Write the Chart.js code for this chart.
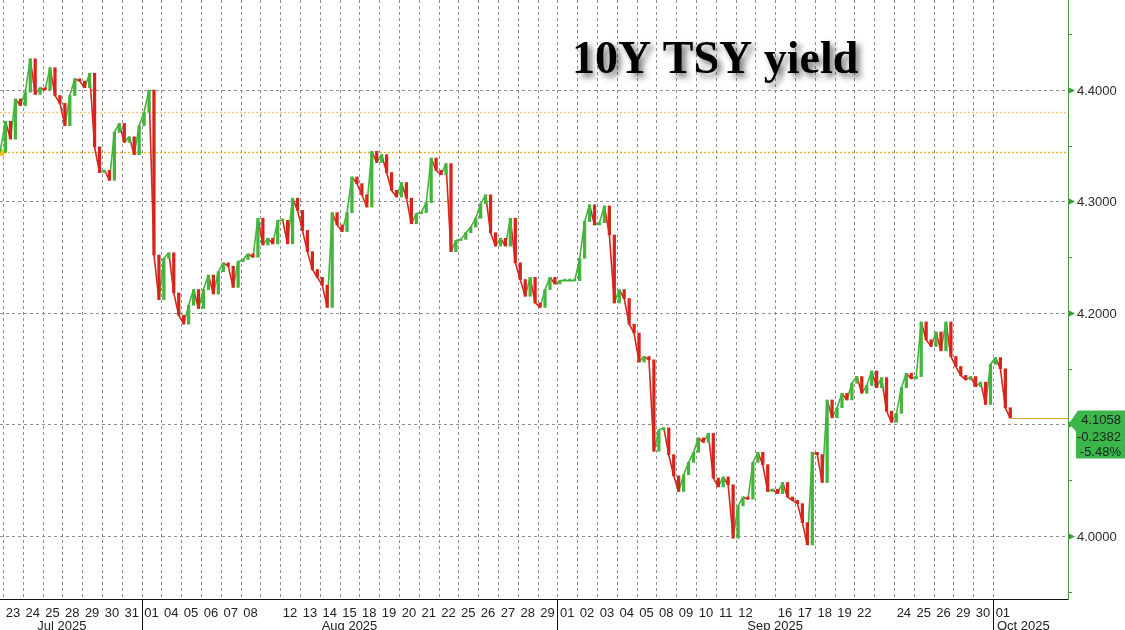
<!DOCTYPE html>
<html><head><meta charset="utf-8">
<script src="https://cdn.jsdelivr.net/npm/chart.js@4.4.0/dist/chart.umd.min.js"></script>
<style>html,body{margin:0;padding:0;background:#fff;overflow:hidden}#wrap{width:1125px;height:630px;position:relative}</style>
</head><body><div id="wrap"><canvas id="c" width="1125" height="630"></canvas></div>
<script>
const chartTitle = '10Y TSY yield';
const months = ['Jul 2025', 'Aug 2025', 'Sep 2025', 'Oct 2025'];
const monthDays = [
  ['23','24','25','28','29','30','31'],
  ['01','04','05','06','07','08','11','12','13','14','15','18','19','20','21','22','25','26','27','28','29'],
  ['01','02','03','04','05','08','09','10','11','12','15','16','17','18','19','22','23','24','25','26','29','30'],
  ['01']
];
const unlabeledDays = ['Aug 2025 11', 'Sep 2025 15', 'Sep 2025 23'];
const barsPerDay = 4;
const firstOpen = 4.344;
const basePrice = 4.344;
const refLevels = [4.380, 4.344];
const yMajorTicks = [4.0, 4.1, 4.2, 4.3, 4.4];
const yMinorTicks = [3.95, 4.05, 4.15, 4.25, 4.35, 4.45];
// closes, 4 per trading day
const yields = [
  4.372, 4.356, 4.392, 4.386,  // Jul 23
  4.398, 4.428, 4.396, 4.402,  // Jul 24
  4.400, 4.420, 4.395, 4.388,  // Jul 25
  4.368, 4.395, 4.410, 4.408,  // Jul 28
  4.402, 4.415, 4.349, 4.326,  // Jul 29
  4.328, 4.319, 4.362, 4.370,  // Jul 30
  4.353, 4.358, 4.342, 4.368,  // Jul 31
  4.380, 4.400, 4.252, 4.212,  // Aug 01
  4.249, 4.254, 4.218, 4.198,  // Aug 04
  4.190, 4.207, 4.221, 4.204,  // Aug 05
  4.221, 4.234, 4.217, 4.237,  // Aug 06
  4.245, 4.242, 4.223, 4.246,  // Aug 07
  4.248, 4.253, 4.250, 4.285,  // Aug 08
  4.261, 4.267, 4.262, 4.283,  // Aug 11
  4.283, 4.262, 4.303, 4.292,  // Aug 12
  4.274, 4.255, 4.239, 4.232,  // Aug 13
  4.225, 4.205, 4.290, 4.279,  // Aug 14
  4.273, 4.290, 4.322, 4.316,  // Aug 15
  4.306, 4.295, 4.345, 4.335,  // Aug 18
  4.342, 4.326, 4.310, 4.304,  // Aug 19
  4.317, 4.303, 4.280, 4.289,  // Aug 20
  4.290, 4.299, 4.339, 4.328,  // Aug 21
  4.324, 4.334, 4.255, 4.265,  // Aug 22
  4.266, 4.272, 4.277, 4.285,  // Aug 25
  4.298, 4.306, 4.272, 4.260,  // Aug 26
  4.267, 4.260, 4.285, 4.245,  // Aug 27
  4.230, 4.215, 4.232, 4.209,  // Aug 28
  4.205, 4.221, 4.232, 4.226,  // Aug 29
  4.229, 4.229, 4.229, 4.229,  // Sep 01
  4.249, 4.282, 4.297, 4.279,  // Sep 02
  4.281, 4.296, 4.270, 4.209,  // Sep 03
  4.221, 4.213, 4.190, 4.182,  // Sep 04
  4.156, 4.161, 4.158, 4.076,  // Sep 05
  4.095, 4.097, 4.073, 4.054,  // Sep 08
  4.040, 4.055, 4.066, 4.075,  // Sep 09
  4.088, 4.084, 4.092, 4.052,  // Sep 10
  4.044, 4.053, 4.046, 3.998,  // Sep 11
  4.027, 4.035, 4.033, 4.066,  // Sep 12
  4.075, 4.064, 4.040, 4.042,  // Sep 15
  4.038, 4.048, 4.035, 4.032,  // Sep 16
  4.029, 4.012, 3.992, 4.075,  // Sep 17
  4.073, 4.048, 4.122, 4.106,  // Sep 18
  4.115, 4.128, 4.122, 4.137,  // Sep 19
  4.143, 4.128, 4.135, 4.148,  // Sep 22
  4.133, 4.142, 4.112, 4.102,  // Sep 23
  4.110, 4.133, 4.146, 4.141,  // Sep 24
  4.143, 4.192, 4.176, 4.170,  // Sep 25
  4.183, 4.166, 4.192, 4.161,  // Sep 26
  4.152, 4.144, 4.140, 4.143,  // Sep 29
  4.134, 4.138, 4.118, 4.154,  // Sep 30
  4.160, 4.150, 4.115, 4.1058  // Oct 01
];

const GREEN = '#44b43c', RED = '#d6261c';
const days = [];
months.forEach((m, mi) => monthDays[mi].forEach(d => days.push({ month: mi, label: d })));
const barX = i => Math.floor(i / barsPerDay) + ((i % barsPerDay) + 0.5) / barsPerDay;
const bars = yields.map((c, i) => ({ x: barX(i), y: [i === 0 ? firstOpen : yields[i - 1], c] }));
const closes = [{ x: -0.15, y: firstOpen }].concat(yields.map((c, i) => ({ x: barX(i), y: c })));
const lastVal = yields[yields.length - 1];

const decor = {
  id: 'decor',
  beforeDatasetsDraw(chart) {
    const { ctx, chartArea: a, scales: { x, y } } = chart;
    ctx.save();
    ctx.strokeStyle = '#8e8e8e'; ctx.lineWidth = 1; ctx.setLineDash([3, 3]);
    for (let d = 0; d < days.length; d++) {
      const px = Math.round(x.getPixelForValue(d)) + 0.5;
      ctx.beginPath(); ctx.moveTo(px, a.top); ctx.lineTo(px, a.bottom); ctx.stroke();
    }
    yMajorTicks.forEach(v => {
      const py = Math.round(y.getPixelForValue(v)) + 0.5;
      ctx.beginPath(); ctx.moveTo(a.left, py); ctx.lineTo(a.right, py); ctx.stroke();
    });
    ctx.setLineDash([2, 2]);
    ctx.lineWidth = 1.5;
    ctx.strokeStyle = '#efc879';
    let py = Math.round(y.getPixelForValue(refLevels[0])) + 0.5;
    ctx.beginPath(); ctx.moveTo(a.left, py); ctx.lineTo(a.right, py); ctx.stroke();
    ctx.strokeStyle = '#e6b31e';
    py = Math.round(y.getPixelForValue(refLevels[1])) + 0.5;
    ctx.beginPath(); ctx.moveTo(a.left, py); ctx.lineTo(a.right, py); ctx.stroke();
    ctx.setLineDash([]);
    ctx.fillStyle = '#f0c020';
    ctx.beginPath(); ctx.arc(a.left + 1, py, 3.5, 0, Math.PI * 2); ctx.fill();
    ctx.font = 'bold 46px "Liberation Serif", "Times New Roman", serif';
    ctx.textBaseline = 'alphabetic'; ctx.textAlign = 'left';
    ctx.shadowColor = 'rgba(0,0,0,0.55)'; ctx.shadowBlur = 6; ctx.shadowOffsetX = 4; ctx.shadowOffsetY = 4;
    ctx.fillStyle = '#000';
    ctx.fillText(chartTitle, 572, 73);
    ctx.restore();
  },
  afterDatasetsDraw(chart) {
    const { ctx, chartArea: a, scales: { x, y } } = chart;
    ctx.save();
    const ly = Math.round(y.getPixelForValue(lastVal)) + 0.5;
    const lx = x.getPixelForValue(bars[bars.length - 1].x) + 2;
    ctx.strokeStyle = '#f0a634'; ctx.lineWidth = 1;
    ctx.beginPath(); ctx.moveTo(lx, ly); ctx.lineTo(a.right, ly); ctx.stroke();
    ctx.strokeStyle = '#111';
    ctx.beginPath(); ctx.moveTo(0, a.bottom + 0.5); ctx.lineTo(a.right, a.bottom + 0.5); ctx.stroke();
    ctx.strokeStyle = '#3c9a3c';
    ctx.beginPath(); ctx.moveTo(a.right + 0.5, 0); ctx.lineTo(a.right + 0.5, a.bottom + 1); ctx.stroke();
    yMinorTicks.forEach(v => {
      const p = Math.round(y.getPixelForValue(v)) + 0.5;
      if (p < 0 || p > a.bottom) return;
      ctx.beginPath(); ctx.moveTo(a.right, p); ctx.lineTo(a.right + 4, p); ctx.stroke();
    });
    ctx.font = '13px "Liberation Sans", Arial, sans-serif';
    ctx.textBaseline = 'middle'; ctx.textAlign = 'left';
    yMajorTicks.forEach(v => {
      const p = Math.round(y.getPixelForValue(v)) + 0.5;
      ctx.fillStyle = '#3c9a3c';
      ctx.beginPath(); ctx.moveTo(a.right + 1, p - 3); ctx.lineTo(a.right + 7, p); ctx.lineTo(a.right + 1, p + 3); ctx.closePath(); ctx.fill();
      ctx.fillStyle = '#2a2a2a';
      ctx.fillText(v.toFixed(4), a.right + 9, p + 1);
    });
    const top = ly - 8, bot = ly + 40;
    ctx.fillStyle = '#3cb64a';
    ctx.beginPath();
    ctx.moveTo(a.right + 10, top); ctx.lineTo(1125, top); ctx.lineTo(1125, bot); ctx.lineTo(a.right + 8, bot);
    ctx.lineTo(a.right + 8, ly + 13); ctx.lineTo(a.right + 1, ly + 5); ctx.closePath(); ctx.fill();
    const chg = lastVal - basePrice;
    const pct = chg / basePrice * 100;
    ctx.fillStyle = '#16241a'; ctx.textAlign = 'right';
    ctx.fillText(lastVal.toFixed(4), 1121, ly + 2);
    ctx.fillText((chg < 0 ? '-' : '+') + Math.abs(chg).toFixed(4), 1121, ly + 19);
    ctx.fillText((pct < 0 ? '-' : '+') + Math.abs(pct).toFixed(2) + '%', 1121, ly + 34);
    ctx.fillStyle = '#222'; ctx.textAlign = 'center'; ctx.textBaseline = 'alphabetic';
    days.forEach((d, i) => {
      if (unlabeledDays.includes(months[d.month] + ' ' + d.label)) return;
      ctx.fillText(d.label, x.getPixelForValue(i + 0.5), 617);
    });
    let start = 0;
    ctx.strokeStyle = '#111';
    months.forEach((m, mi) => {
      const n = monthDays[mi].length;
      const s = mi === 0 ? a.left - 18 : x.getPixelForValue(start);
      const e = x.getPixelForValue(start + n);
      if (mi > 0) {
        const px = Math.round(s) + 0.5;
        ctx.beginPath(); ctx.moveTo(px, a.bottom); ctx.lineTo(px, 630); ctx.stroke();
      }
      if (mi === months.length - 1) { ctx.textAlign = 'left'; ctx.fillText(m, s + 4, 630); }
      else { ctx.textAlign = 'center'; ctx.fillText(m, (s + e) / 2, 630); }
      start += n;
    });
    ctx.restore();
  }
};

new Chart(document.getElementById('c'), {
  type: 'bar',
  data: {
    datasets: [{
      type: 'line',
      data: closes,
      borderWidth: 1.6,
      pointRadius: 0,
      tension: 0,
      segment: { borderColor: s => s.p1.parsed.y >= s.p0.parsed.y ? GREEN : RED },
      order: 2
    }, {
      data: bars,
      backgroundColor: c => (c.raw && c.raw.y[1] >= c.raw.y[0]) ? GREEN : RED,
      borderWidth: 0,
      barThickness: 2.6,
      minBarLength: 1.5,
      grouped: false,
      order: 1
    }]
  },
  options: {
    responsive: false, animation: false, devicePixelRatio: 1,
    layout: { padding: { left: 0, top: 0, right: 57, bottom: 31 } },
    plugins: { legend: { display: false }, tooltip: { enabled: false } },
    scales: {
      x: { type: 'linear', display: false, offset: false, min: -0.152, max: 53.79 },
      y: { display: false, min: 3.9435, max: 4.4807 }
    }
  },
  plugins: [decor]
});
</script>
</body></html>
